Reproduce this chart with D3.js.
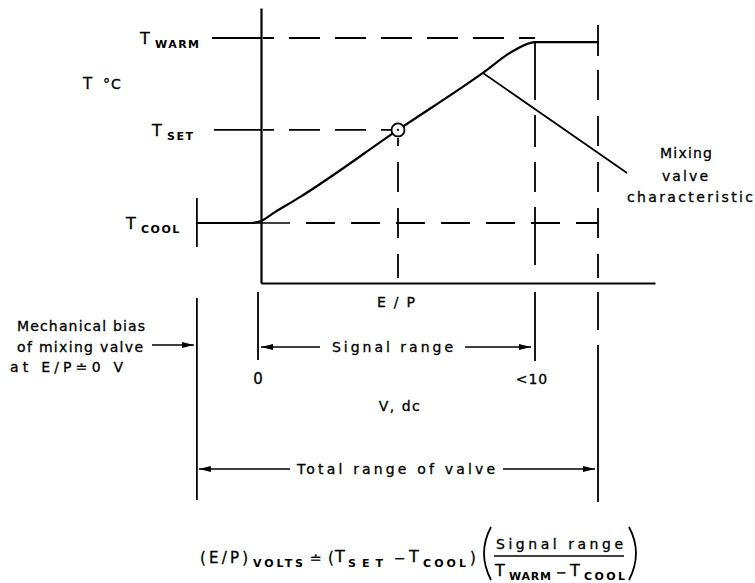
<!DOCTYPE html>
<html><head><meta charset="utf-8">
<script src="https://cdn.jsdelivr.net/npm/d3@7/dist/d3.min.js"></script>
<style>
html,body{margin:0;padding:0;background:#fff;}
svg text{font-family:"DejaVu Sans",sans-serif;fill:#000;stroke:#000;stroke-width:0.3;}
</style></head>
<body>
<svg id="c" width="755" height="583"></svg>
<script>
// ---------- data (E/P in volts, temperature normalised: T_COOL = 0, T_WARM = 1) ----------
const curveVolts = [-2.34, -0.4, 0, 0.51, 1.42, 5.0, 8.1, 9.2, 10.0, 12.3];
const curveTemp  = [0, 0, 0.011, 0.059, 0.14, 0.503, 0.811, 0.93, 0.978, 0.978];
const levelNames  = ["WARM", "SET", "COOL"];
const levelTemps  = [1.0, 0.503, 0.0];
const setVolts    = 5.0;
const signalRange = [0, 10];
const totalRange  = [-2.34, 12.3];
const valveLineVolts = [8.1, 13.36];
const valveLineTemp  = [0.811, 0.27];
const tickLabels = ["0", "<10"];

// ---------- scales ----------
const x = d3.scaleLinear().domain([0, 10]).range([261, 535]);
const y = d3.scaleLinear().domain([0, 1]).range([223, 38]);

const svg = d3.select("#c");
const defs = svg.append("defs");
defs.append("marker").attr("id","ah").attr("viewBox","0 0 12 8")
  .attr("refX",12).attr("refY",4).attr("markerWidth",12).attr("markerHeight",8)
  .attr("markerUnits","userSpaceOnUse").attr("orient","auto-start-reverse")
  .append("path").attr("d","M0,1 L12,4 L0,7 Z").attr("fill","#000");

function line(x1,y1,x2,y2,w,dash,off){
  const l = svg.append("line").attr("x1",x1).attr("y1",y1).attr("x2",x2).attr("y2",y2)
    .attr("stroke","#000").attr("stroke-width",w||1.8);
  if(dash){ l.attr("stroke-dasharray",dash); if(off) l.attr("stroke-dashoffset",off); }
  return l;
}
function text(t,xx,yy,o){
  o=o||{};
  const e = svg.append("text").attr("x",xx).attr("y",yy).text(t)
    .attr("font-size",o.size||13).attr("text-anchor",o.anchor||"start");
  if(o.bold) e.attr("font-weight","bold").style("stroke-width",0);
  if(o.len){ e.attr("textLength",o.len).attr("lengthAdjust","spacing"); }
  if(o.ls) e.attr("letter-spacing",o.ls);
  return e;
}

// ---------- axes ----------
svg.append("g").attr("transform",`translate(${x(0)},0)`)
  .call(d3.axisLeft(d3.scaleLinear().range([8,283])).tickValues([]).tickSizeOuter(0));
svg.append("g").attr("transform","translate(0,283)")
  .call(d3.axisBottom(d3.scaleLinear().range([x(0),655])).tickValues([]).tickSizeOuter(0));
svg.selectAll(".domain").attr("stroke","#000").attr("stroke-width",2.2);

// ---------- temperature levels ----------
line(212, y(levelTemps[0]), x(0), y(levelTemps[0]), 1.8);
line(x(0)+2, y(levelTemps[0]), x(signalRange[1]), y(levelTemps[0]), 1.8, "31,15", 20);
line(214, y(levelTemps[1]), x(0), y(levelTemps[1]), 1.8);
line(x(0)+2, y(levelTemps[1]), x(setVolts)-7, y(levelTemps[1]), 1.8, "31,15", 20);
line(x(totalRange[0]), y(levelTemps[2]), 290, y(levelTemps[2]), 1.6);
line(306, y(levelTemps[2]), x(totalRange[1]), y(levelTemps[2]), 1.8, "29,16");

// ---------- vertical guides ----------
line(x(setVolts), y(levelTemps[1])+8, x(setVolts), 278, 1.8, "30,16", 22);
line(x(signalRange[1]), y(curveTemp[8]), x(signalRange[1]), 278, 1.8, "58,15,32,15,30,15");
line(x(totalRange[1]), 25, x(totalRange[1]), 56, 1.8);
line(x(totalRange[1]), 70, x(totalRange[1]), 278, 1.8, "30,16");
line(x(totalRange[0]), 198, x(totalRange[0]), 247, 1.8);

// ---------- characteristic curve ----------
const pts = curveVolts.map((v,i)=>[x(v), y(curveTemp[i])]);
svg.append("path").attr("d", d3.line().curve(d3.curveMonotoneX)(pts))
  .attr("fill","none").attr("stroke","#000").attr("stroke-width",2.2);
svg.append("path").attr("d", d3.line()(valveLineVolts.map((v,i)=>[x(v), y(valveLineTemp[i])])))
  .attr("fill","none").attr("stroke","#000").attr("stroke-width",1.8);
svg.append("circle").attr("cx",x(setVolts)).attr("cy",y(levelTemps[1])).attr("r",6.5)
  .attr("fill","#fff").attr("stroke","#000").attr("stroke-width",1.8);
svg.append("circle").attr("cx",x(setVolts)).attr("cy",y(levelTemps[1])).attr("r",1.1).attr("fill","#000");

// ---------- labels (upper) ----------
text("T", 83, 89, {size:15});
text("°C", 103, 89, {size:14, ls:1});
const levelLabelX = [140, 152, 126];
levelNames.forEach((n,i)=>{
  const yy = y(levelTemps[i]);
  text("T", levelLabelX[i], yy+6, {size:16});
  text(n, levelLabelX[i]+15, yy+10, {size:11, bold:true, ls:1.5});
});
text("Mixing", 660, 158, {size:14, len:52});
text("valve", 662, 181, {size:14, len:46});
text("characteristic", 627, 202, {size:14, len:126});
text("E/P", 377, 307, {size:14, len:38});

// ---------- signal range ----------
line(x(signalRange[0])-3, 292, x(signalRange[0])-3, 360, 1.8);
line(x(signalRange[1]), 292, x(signalRange[1]), 361, 1.8);
line(320, 347, x(signalRange[0]), 347, 1.6).attr("marker-end","url(#ah)");
line(465, 347, x(signalRange[1])-4, 347, 1.6).attr("marker-end","url(#ah)");
text("Signal range", 332, 352, {size:14, len:121});
text(tickLabels[0], x(signalRange[0])-3, 384, {size:15, anchor:"middle"});
text(tickLabels[1], x(signalRange[1])-3, 384, {size:14, anchor:"middle", ls:1});
text("V, dc", 400, 411, {size:14, anchor:"middle", ls:1.5});

// ---------- mechanical bias / total range ----------
line(x(totalRange[0]), 298, x(totalRange[0]), 500, 1.8);
line(x(totalRange[1]), 292, x(totalRange[1]), 330, 1.8);
line(x(totalRange[1]), 345, x(totalRange[1]), 502, 1.8);
line(152, 345, x(totalRange[0])-3, 345, 1.6).attr("marker-end","url(#ah)");
text("Mechanical bias", 17, 331, {size:14, len:128});
text("of mixing valve", 17, 352, {size:14, len:126});
text("at E/P\u22500 V", 10, 372, {size:14, len:113});
line(290, 469, x(totalRange[0])+2, 469, 1.6).attr("marker-end","url(#ah)");
line(503, 469, x(totalRange[1])-3, 469, 1.6).attr("marker-end","url(#ah)");
text("Total range of valve", 297, 474, {size:14, len:198});

// ---------- formula ----------
text("(E/P)", 200, 563, {size:15, len:48});
text("VOLTS", 253, 567, {size:11, bold:true, len:50});
text("\u2250", 310, 563, {size:14});
text("(", 328, 563, {size:15});
text("T", 335, 562, {size:16});
text("SET", 348, 567, {size:11, bold:true, len:35});
text("\u2212", 394, 563, {size:14});
text("T", 409, 562, {size:16});
text("COOL", 423, 567, {size:11, bold:true, len:43});
text(")", 470, 563, {size:15});
svg.append("path").attr("d","M491,527 Q477,553 491,580").attr("fill","none").attr("stroke","#000").attr("stroke-width",1.8);
svg.append("path").attr("d","M629,527 Q643,553 629,580").attr("fill","none").attr("stroke","#000").attr("stroke-width",1.8);
text("Signal range", 496, 549, {size:14, len:127});
line(494, 556, 624, 556, 1.4);
text("T", 495, 576, {size:16});
text("WARM", 509, 580, {size:11, bold:true, len:42});
text("\u2212", 556, 577, {size:13});
text("T", 570, 576, {size:16});
text("COOL", 584, 580, {size:11, bold:true, len:41});
</script>
</body></html>
